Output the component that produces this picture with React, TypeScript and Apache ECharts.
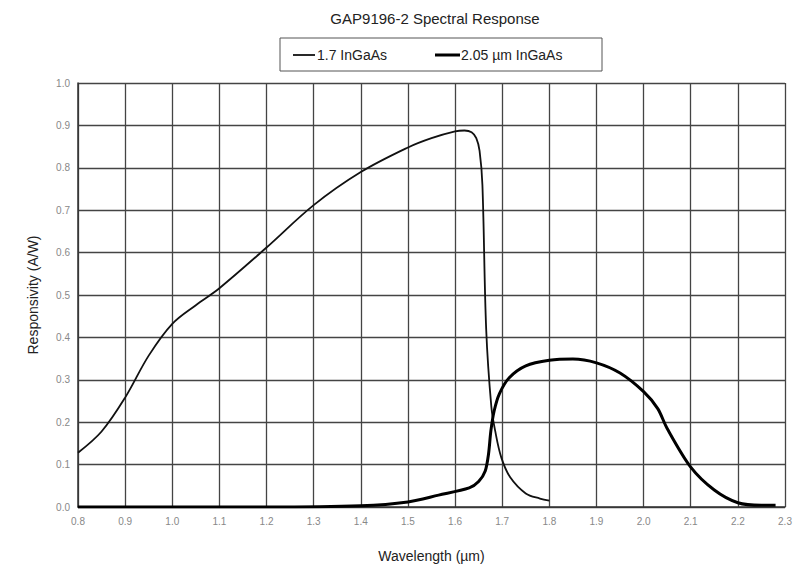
import React, { useEffect, useRef } from "react";
import * as echarts from "echarts";

const titleText = "GAP9196-2 Spectral Response";
const seriesNames = ["1.7 InGaAs", "2.05 µm InGaAs"];
const xAxisName = "Wavelength (µm)";
const yAxisName = "Responsivity (A/W)";

const wl17 = [0.8, 0.85, 0.9, 0.95, 1.0, 1.05, 1.1, 1.2, 1.3, 1.4, 1.5, 1.55, 1.6, 1.62, 1.635, 1.645, 1.652, 1.658, 1.666, 1.677, 1.685, 1.698, 1.717, 1.75, 1.78, 1.8];
const resp17 = [0.128, 0.178, 0.258, 0.357, 0.432, 0.476, 0.516, 0.612, 0.712, 0.79, 0.848, 0.87, 0.886, 0.888, 0.884, 0.87, 0.84, 0.76, 0.42, 0.236, 0.18, 0.117, 0.07, 0.032, 0.02, 0.015];

const wl205 = [0.8, 1.0, 1.2, 1.4, 1.5, 1.565, 1.63, 1.65, 1.664, 1.671, 1.676, 1.683, 1.694, 1.715, 1.75, 1.8, 1.85, 1.9, 1.95, 2.0, 2.03, 2.05, 2.1, 2.15, 2.2, 2.25, 2.28];
const resp205 = [0.0, 0.0, 0.0, 0.003, 0.012, 0.028, 0.045, 0.06, 0.085, 0.125, 0.18, 0.227, 0.267, 0.305, 0.333, 0.346, 0.349, 0.34, 0.316, 0.272, 0.232, 0.185, 0.094, 0.04, 0.01, 0.004, 0.004];

const xMin = 0.8;
const xMax = 2.3;
const xStep = 0.1;
const yMin = 0;
const yMax = 1.0;
const yStep = 0.1;

const FONT = "Liberation Sans, Arial, sans-serif";

export default function App() {
  const ref = useRef<HTMLDivElement>(null);
  useEffect(() => {
    if (!ref.current) return;
    const chart = echarts.init(ref.current, null, { renderer: "svg" });
    const d17 = wl17.map((x, i) => [x, resp17[i]]);
    const d205 = wl205.map((x, i) => [x, resp205[i]]);
    chart.setOption({
      animation: false,
      backgroundColor: "#ffffff",
      title: {
        text: titleText,
        left: 430,
        top: 6,
        textAlign: "center",
        textStyle: { fontFamily: FONT, fontSize: 15, fontWeight: "normal", color: "#222" },
      },
      grid: { left: 78, right: 24, top: 83, bottom: 64, containLabel: false },
      xAxis: {
        type: "value",
        min: xMin,
        max: xMax,
        interval: xStep,
        name: xAxisName,
        nameLocation: "middle",
        nameGap: 42,
        nameTextStyle: { fontFamily: FONT, fontSize: 14, color: "#222" },
        axisLine: { show: true, lineStyle: { color: "#333", width: 1.5 } },
        axisTick: { show: false },
        axisLabel: {
          fontFamily: FONT,
          fontSize: 10,
          color: "#888",
          margin: 9,
          formatter: (v: number) => v.toFixed(1),
        },
        splitLine: { show: true, lineStyle: { color: "#444", width: 1.3 } },
      },
      yAxis: {
        type: "value",
        min: yMin,
        max: yMax,
        interval: yStep,
        name: yAxisName,
        nameLocation: "middle",
        nameGap: 38,
        nameRotate: 90,
        nameTextStyle: { fontFamily: FONT, fontSize: 14, color: "#222" },
        axisLine: { show: true, lineStyle: { color: "#333", width: 1.5 } },
        axisTick: { show: false },
        axisLabel: {
          fontFamily: FONT,
          fontSize: 10,
          color: "#888",
          margin: 8,
          formatter: (v: number) => v.toFixed(1),
        },
        splitLine: { show: true, lineStyle: { color: "#444", width: 1.3 } },
      },
      series: [
        {
          name: seriesNames[0],
          type: "line",
          data: d17,
          showSymbol: false,
          smooth: 0.35,
          lineStyle: { color: "#111", width: 1.8 },
          z: 3,
        },
        {
          name: seriesNames[1],
          type: "line",
          data: d205,
          showSymbol: false,
          smooth: 0.3,
          lineStyle: { color: "#000", width: 3 },
          z: 4,
        },
      ],
      graphic: [
        {
          type: "rect",
          shape: { x: 280, y: 38, width: 322, height: 33 },
          style: { fill: "#fff", stroke: "#555", lineWidth: 1 },
        },
        {
          type: "line",
          shape: { x1: 293, y1: 55, x2: 315, y2: 55 },
          style: { stroke: "#111", lineWidth: 1.8 },
        },
        {
          type: "text",
          x: 317,
          y: 55,
          style: { text: seriesNames[0], font: "14px " + FONT, fill: "#222", verticalAlign: "middle" },
        },
        {
          type: "line",
          shape: { x1: 435, y1: 55, x2: 460, y2: 55 },
          style: { stroke: "#000", lineWidth: 3 },
        },
        {
          type: "text",
          x: 461,
          y: 55,
          style: { text: seriesNames[1], font: "14px " + FONT, fill: "#222", verticalAlign: "middle" },
        },
      ],
    });
    return () => chart.dispose();
  }, []);
  return <div ref={ref} style={{ width: 809, height: 571, position: "absolute", left: 0, top: 0 }} />;
}
